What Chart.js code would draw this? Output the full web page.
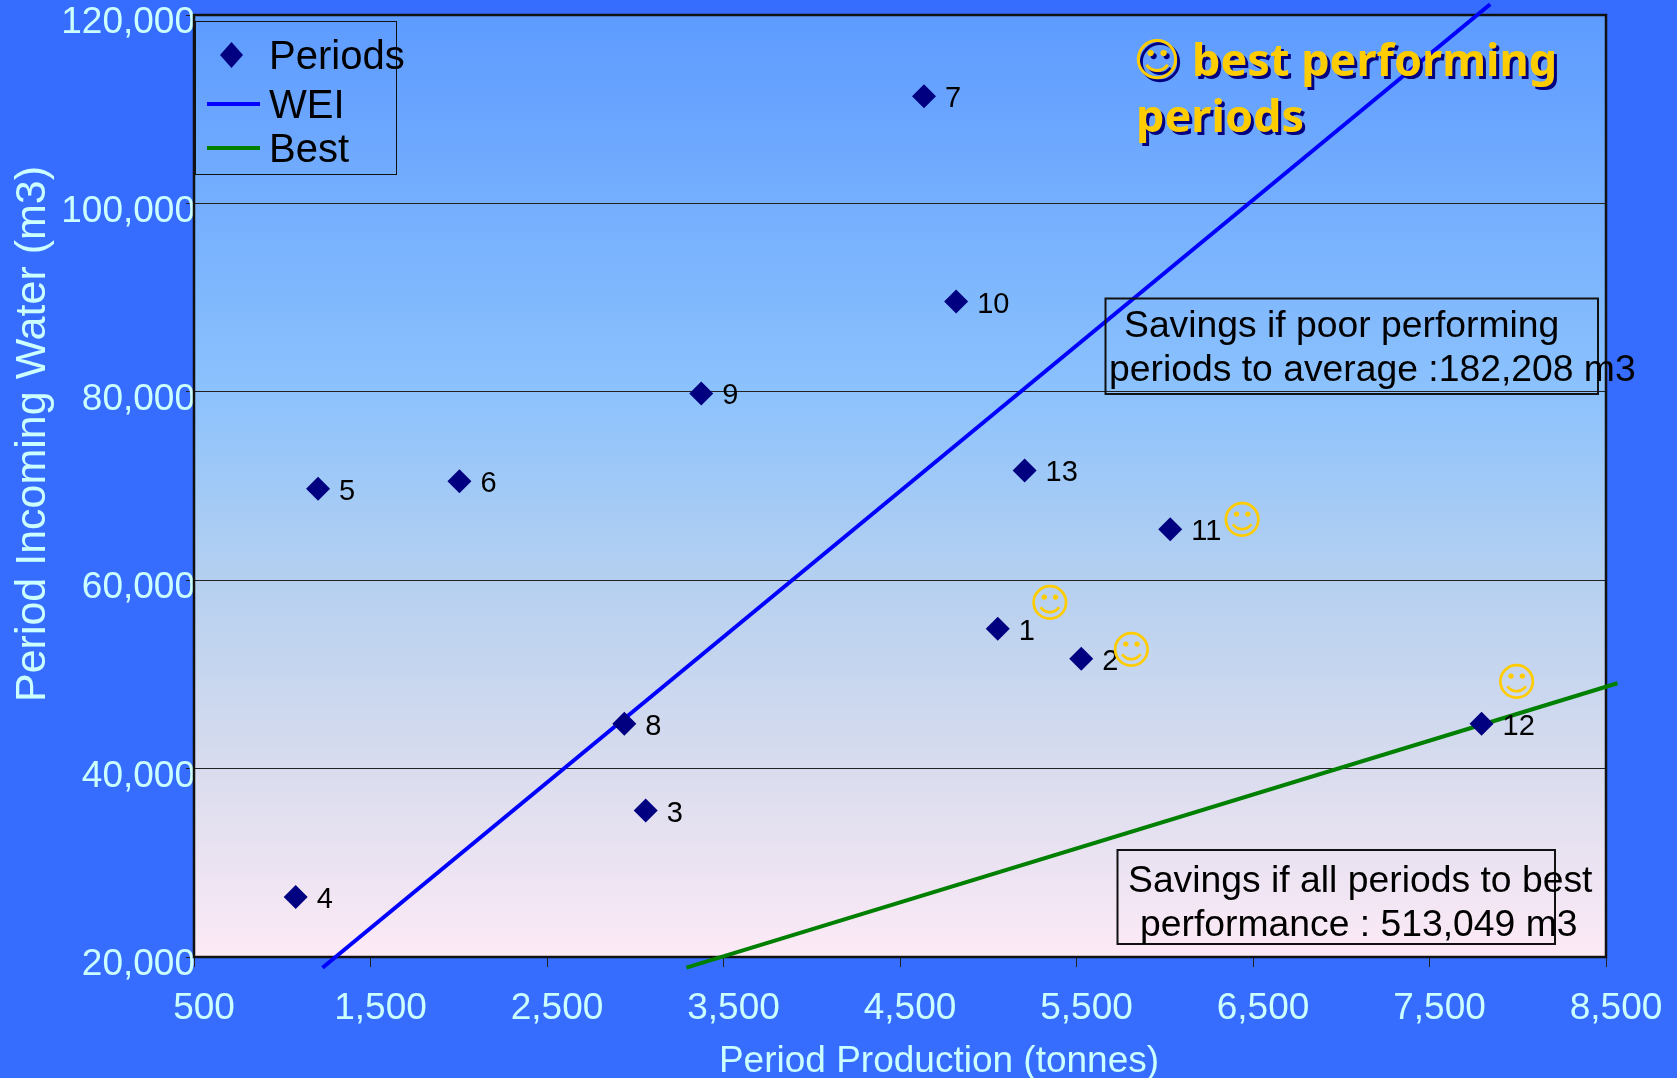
<!DOCTYPE html>
<html>
<head>
<meta charset="utf-8">
<style>
  html, body { margin: 0; padding: 0; background: #366dff; overflow: hidden; }
  canvas { position: absolute; left: 0; top: 0; }
</style>
<script src="https://cdn.jsdelivr.net/npm/chart.js@4"></script>
</head>
<body>
<canvas id="chart" width="1677" height="1078"></canvas>
<script>
// Values
const periodNames = ['1', '2', '3', '4', '5', '6', '7', '8', '9', '10', '11', '12', '13'];
const production = [5054, 5527, 3059, 1076, 1203, 2004, 4636, 2938, 3374, 4818, 6031, 7795, 5206];
const incomingWater = [54850, 51670, 35550, 26360, 69720, 70510, 111370, 44750, 79820, 89580, 65400, 44750, 71650];

const weiX = [1228, 7844];
const weiY = [18865, 121135];
const bestX = [3290, 8565];
const bestY = [18865, 49058];

const xTitle = 'Period Production (tonnes)';
const yTitle = 'Period Incoming Water (m3)';
const smileyPeriods = ['1', '2', '11', '12'];

const pale = '#ccffff';
const gold = '#ffcc00';
const navy = '#000080';
const sans = '"Liberation Sans", Arial, sans-serif';

function pairs(xs, ys) {
    return xs.map((x, i) => ({ x: x, y: ys[i] }));
}

function text(ctx, str, x, y, font, color, align) {
    ctx.font = font;
    ctx.fillStyle = color;
    ctx.textAlign = align || 'left';
    ctx.textBaseline = 'alphabetic';
    ctx.fillText(str, x, y);
}

// gradient behind the plot and the heavy frame round it
const plotBackground = {
    id: 'plotBackground',
    beforeDatasetsDraw(chart) {
        const a = chart.chartArea, ctx = chart.ctx;
        ctx.save();
        ctx.strokeStyle = '#111';
        ctx.lineWidth = 2.5;
        ctx.strokeRect(a.left, a.top, a.right - a.left, a.bottom - a.top);
        ctx.restore();
    },
    beforeDraw(chart) {
        const a = chart.chartArea, ctx = chart.ctx;
        const g = ctx.createLinearGradient(0, a.top, 0, a.bottom);
        g.addColorStop(0, '#5d9bff');
        g.addColorStop(0.4, '#8cc2fd');
        g.addColorStop(0.6, '#b5d0f0');
        g.addColorStop(0.8, '#d9dcee');
        g.addColorStop(1, '#fdeaf6');
        ctx.save();
        ctx.fillStyle = g;
        ctx.fillRect(a.left, a.top, a.right - a.left, a.bottom - a.top);
        ctx.restore();
    }
};

const annotations = {
    id: 'annotations',
    afterDraw(chart) {
        const ctx = chart.ctx;
        const xs = chart.scales.x, ys = chart.scales.y;
        ctx.save();

        // axis titles
        text(ctx, xTitle, 939, 1072, '37px ' + sans, pale, 'center');
        ctx.save();
        ctx.translate(45, 434);
        ctx.rotate(-Math.PI / 2);
        text(ctx, yTitle, 0, 0, '43px ' + sans, pale, 'center');
        ctx.restore();

        // period numbers beside the diamonds
        periodNames.forEach((name, i) => {
            const px = xs.getPixelForValue(production[i]);
            const py = ys.getPixelForValue(incomingWater[i]);
            text(ctx, name, px + 21, py + 11, '29px ' + sans, '#000');
        });

        // smileys
        const smileyOffsets = { '1': [52, -26], '2': [50, -9], '11': [72, -9], '12': [35, -42] };
        smileyPeriods.forEach(name => {
            const i = periodNames.indexOf(name);
            const px = xs.getPixelForValue(production[i]) + smileyOffsets[name][0];
            const py = ys.getPixelForValue(incomingWater[i]) + smileyOffsets[name][1];
            text(ctx, '\u263A', px, py + 14, 'bold 40px "DejaVu Sans"', gold, 'center');
        });

        // legend
        ctx.strokeStyle = '#111';
        ctx.lineWidth = 1;
        ctx.strokeRect(195.5, 21.5, 201, 153);
        const ds = chart.data.datasets;
        ctx.fillStyle = navy;
        ctx.beginPath();
        ctx.moveTo(231.5, 42);
        ctx.lineTo(243, 55);
        ctx.lineTo(231.5, 68);
        ctx.lineTo(220, 55);
        ctx.closePath();
        ctx.fill();
        ctx.lineWidth = 4;
        ctx.strokeStyle = ds[1].borderColor;
        ctx.beginPath(); ctx.moveTo(207, 104); ctx.lineTo(260, 104); ctx.stroke();
        ctx.strokeStyle = ds[2].borderColor;
        ctx.beginPath(); ctx.moveTo(207, 148); ctx.lineTo(260, 148); ctx.stroke();
        text(ctx, ds[0].label, 269, 69, '40px ' + sans, '#000');
        text(ctx, ds[1].label, 269, 118, '40px ' + sans, '#000');
        text(ctx, ds[2].label, 269, 162, '40px ' + sans, '#000');

        // savings boxes
        ctx.strokeStyle = '#111';
        ctx.lineWidth = 2;
        ctx.strokeRect(1105.5, 298.5, 492.5, 95.5);
        text(ctx, 'Savings if poor performing', 1124, 337, '37.3px ' + sans, '#000');
        text(ctx, 'periods to average :182,208 m3', 1109, 381, '37.3px ' + sans, '#000');
        ctx.strokeRect(1117.5, 850, 437.5, 94);
        text(ctx, 'Savings if all periods to best', 1128, 892, '37.3px ' + sans, '#000');
        text(ctx, 'performance : 513,049 m3', 1140, 936, '37.3px ' + sans, '#000');

        // note at top right, with its drop shadow
        const noteFont = 'bold 45px "Noto Sans"';
        [[navy, 3], [gold, 0]].forEach(([color, d]) => {
            text(ctx, '\u263A', 1157 + d, 76 + d, 'bold 46px "DejaVu Sans"', color, 'center');
            text(ctx, 'best performing', 1192 + d, 76 + d, noteFont, color);
            text(ctx, 'periods', 1136 + d, 132 + d, noteFont, color);
        });
        ctx.restore();
    }
};

new Chart(document.getElementById('chart'), {
    type: 'scatter',
    data: {
        datasets: [
            {
                label: 'Periods',
                data: pairs(production, incomingWater),
                pointStyle: 'rectRot',
                pointRadius: 12,
                pointBorderWidth: 0,
                pointBackgroundColor: navy,
                pointBorderColor: navy,
                showLine: false
            },
            {
                label: 'WEI',
                data: pairs(weiX, weiY),
                showLine: true,
                borderColor: '#0000ff',
                borderWidth: 4,
                pointRadius: 0,
                clip: false
            },
            {
                label: 'Best',
                data: pairs(bestX, bestY),
                showLine: true,
                borderColor: '#008000',
                borderWidth: 4,
                pointRadius: 0,
                clip: false
            }
        ]
    },
    options: {
        responsive: false,
        animation: false,
        layout: { padding: { top: 15, right: 71, left: 0, bottom: 0 } },
        plugins: {
            legend: { display: false },
            tooltip: { enabled: false }
        },
        scales: {
            x: {
                type: 'linear',
                min: 500,
                max: 8500,
                afterFit(scale) {
                    scale.height = 121;
                    scale.paddingLeft = 0;
                    scale.paddingRight = 0;
                },
                afterBuildTicks(scale) {
                    scale.ticks = [500, 1500, 2500, 3500, 4500, 5500, 6500, 7500, 8500].map(v => ({ value: v }));
                },
                grid: { drawOnChartArea: false, color: '#222', lineWidth: 1, tickLength: 10 },
                border: { display: false },
                ticks: {
                    color: pale,
                    font: { family: sans, size: 37 },
                    padding: 20,
                    maxRotation: 0,
                    autoSkip: false,
                    labelOffset: 10,
                    callback: v => v.toLocaleString('en-US')
                }
            },
            y: {
                min: 20000,
                max: 120000,
                afterFit(scale) {
                    scale.width = 194;
                    scale.paddingTop = 0;
                    scale.paddingBottom = 0;
                },
                grid: { color: '#222', lineWidth: 1, tickLength: 8 },
                border: { display: false },
                ticks: {
                    stepSize: 20000,
                    color: pale,
                    font: { family: sans, size: 37 },
                    padding: -9,
                    labelOffset: 8,
                    callback: v => v.toLocaleString('en-US')
                }
            }
        }
    },
    plugins: [plotBackground, annotations]
});
</script>
</body>
</html>
